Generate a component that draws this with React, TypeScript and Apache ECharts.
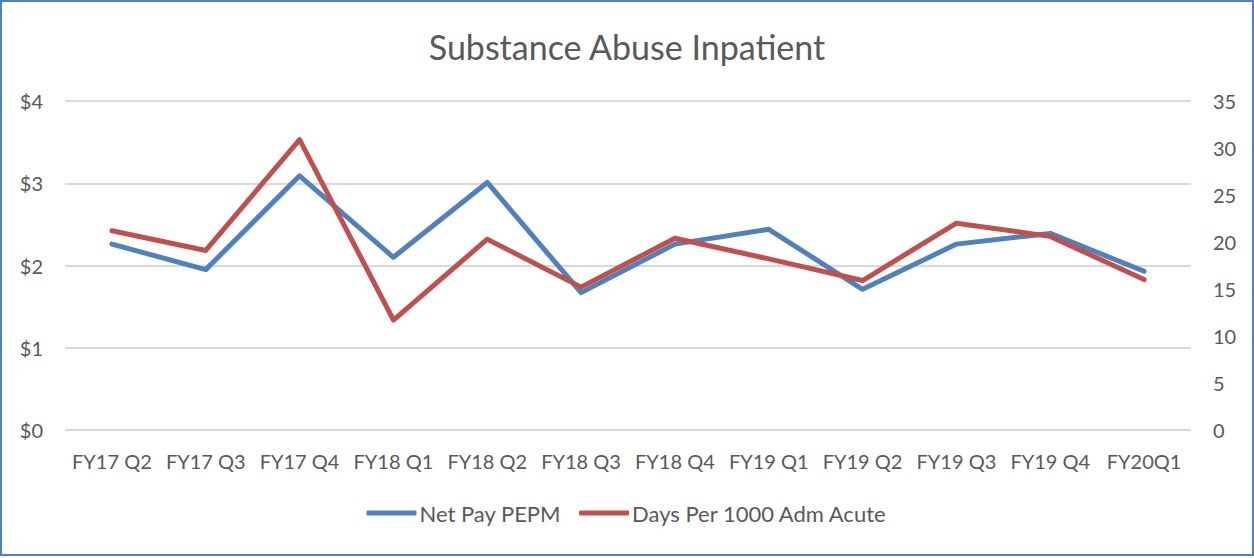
import React, { useEffect, useRef } from "react";
import * as echarts from "echarts";

const categories = ["FY17 Q2", "FY17 Q3", "FY17 Q4", "FY18 Q1", "FY18 Q2", "FY18 Q3", "FY18 Q4", "FY19 Q1", "FY19 Q2", "FY19 Q3", "FY19 Q4", "FY20Q1"];
const netPayPEPM = [2.26, 1.95, 3.09, 2.1, 3.01, 1.67, 2.26, 2.44, 1.71, 2.26, 2.39, 1.93];
const daysPer1000 = [21.2, 19.1, 30.9, 11.7, 20.3, 15.2, 20.4, 18.2, 15.9, 22.0, 20.6, 16.0];
const leftTicks = { min: 0, max: 4, interval: 1 };
const rightTicks = { min: 0, max: 35, interval: 5 };

const FONT = "Lato, 'Open Sans', sans-serif";
const TEXT = "#595959";

export default function App() {
  const ref = useRef<HTMLDivElement>(null);
  useEffect(() => {
    document.body.style.margin = "0";
    const chart = echarts.init(ref.current!, null, { renderer: "svg" });
    chart.setOption({
      animation: false,
      backgroundColor: "#ffffff",
      title: {
        text: "Substance Abuse Inpatient",
        left: "center",
        top: 24,
        textStyle: { fontFamily: FONT, fontSize: 34, fontWeight: "normal", color: TEXT },
      },
      grid: { left: 65, right: 63, top: 101, bottom: 126, containLabel: false },
      legend: {
        bottom: 27,
        left: "center",
        itemWidth: 50,
        itemHeight: 5,
        itemGap: 18,
        icon: "roundRect",
        textStyle: { fontFamily: FONT, fontSize: 22, color: TEXT, padding: [0, 0, 0, -2] },
        data: ["Net Pay PEPM", "Days Per 1000 Adm Acute"],
      },
      xAxis: {
        type: "category",
        data: categories,
        boundaryGap: true,
        axisLine: { show: false },
        axisTick: { show: false },
        axisLabel: { color: TEXT, fontFamily: FONT, fontSize: 20, margin: 21, interval: 0 },
      },
      yAxis: [
        {
          type: "value",
          min: leftTicks.min,
          max: leftTicks.max,
          interval: leftTicks.interval,
          axisLine: { show: false },
          axisTick: { show: false },
          axisLabel: { color: TEXT, fontFamily: FONT, fontSize: 20, margin: 22, formatter: (v: number) => "$" + v },
          splitLine: { lineStyle: { color: "#d9d9d9", width: 2 } },
        },
        {
          type: "value",
          position: "right",
          min: rightTicks.min,
          max: rightTicks.max,
          interval: rightTicks.interval,
          axisLine: { show: false },
          axisTick: { show: false },
          axisLabel: { color: TEXT, fontFamily: FONT, fontSize: 20, margin: 22 },
          splitLine: { show: false },
        },
      ],
      series: [
        {
          name: "Net Pay PEPM",
          type: "line",
          yAxisIndex: 0,
          data: netPayPEPM,
          symbol: "none",
          itemStyle: { color: "#4F81BD" },
          lineStyle: { color: "#4F81BD", width: 5, cap: "round", join: "round" },
        },
        {
          name: "Days Per 1000 Adm Acute",
          type: "line",
          yAxisIndex: 1,
          data: daysPer1000,
          symbol: "none",
          itemStyle: { color: "#C0504D" },
          lineStyle: { color: "#C0504D", width: 5, cap: "round", join: "round" },
        },
      ],
    });
    return () => chart.dispose();
  }, []);
  return (
    <div style={{ position: "absolute", left: 0, top: 0, width: 1254, height: 558 }}>
      <div
        ref={ref}
        style={{ position: "absolute", left: 0, top: 0, width: 1254, height: 556, boxSizing: "border-box" }}
      />
      <div
        style={{
          position: "absolute",
          left: 0,
          top: 0,
          width: 1254,
          height: 556,
          boxSizing: "border-box",
          border: "2px solid #4F81BD",
          pointerEvents: "none",
        }}
      />
    </div>
  );
}
